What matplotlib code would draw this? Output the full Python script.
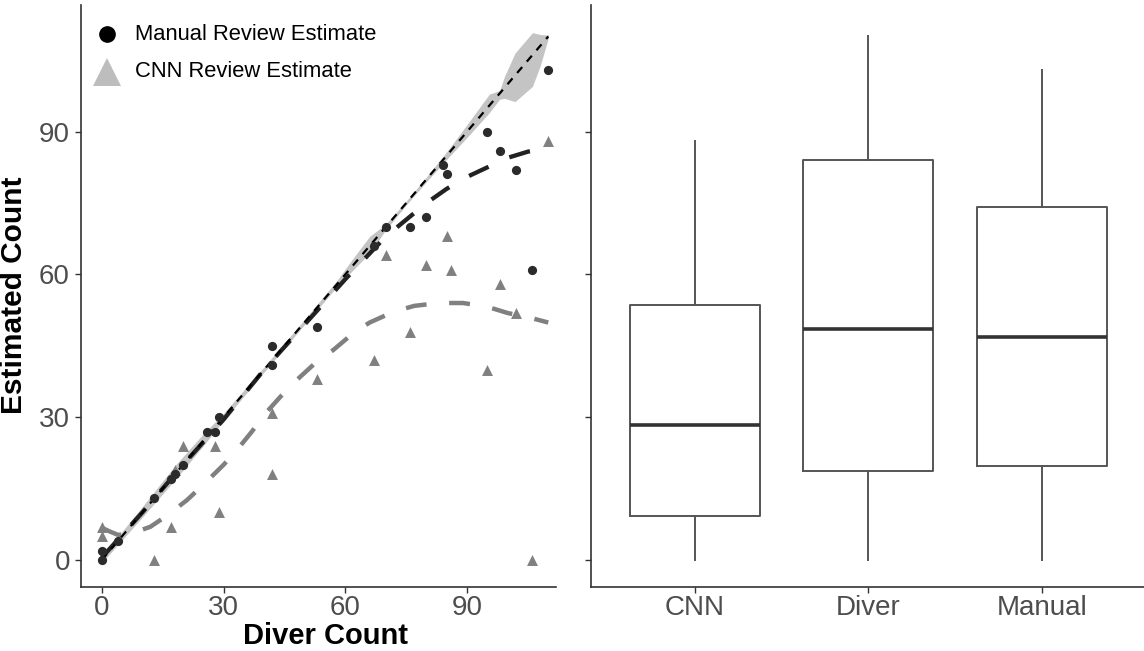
#!/usr/bin/env python3
"""Diver vs. estimated counts: scatter with smoothers, plus boxplots."""

import matplotlib

matplotlib.use("Agg")
import matplotlib.pyplot as plt

plt.rcParams["font.family"] = ["Liberation Sans", "DejaVu Sans"]

# scatter points
manual_x = [0, 0, 4, 13, 17, 18, 20, 26, 28, 29, 42, 42, 53, 67, 70, 76, 80, 84, 85, 95, 98, 102, 106, 110]
manual_y = [0, 2, 4, 13, 17, 18, 20, 27, 27, 30, 45, 41, 49, 66, 70, 70, 72, 83, 81, 90, 86, 82, 61, 103]
cnn_x = [0, 0, 13, 17, 18, 20, 28, 29, 42, 42, 53, 67, 70, 76, 80, 85, 86, 95, 98, 102, 106, 110]
cnn_y = [5, 7, 0, 7, 19, 24, 24, 10, 31, 18, 38, 42, 64, 48, 62, 68, 61, 40, 58, 52, 0, 88]

# identity line with its band
rib_x = [0, 5, 10, 18, 25, 30, 40, 50, 58, 62, 66, 70, 75, 80, 85, 90, 95.5, 98, 99.2, 101.8, 106.1, 108, 110]
rib_lo = [-0.6, 4.2, 9.0, 16.8, 24.0, 29.3, 39.5, 49.5, 57.5, 61.0, 64.5, 69.4, 74.6, 79.5, 84.2,
          88.8, 94.0, 96.8, 97.0, 96.3, 99.5, 103.8, 109.6]
rib_hi = [0.8, 6.0, 11.2, 19.8, 26.5, 30.8, 40.6, 50.6, 58.8, 63.5, 68.0, 70.6, 75.4, 80.5, 85.8,
          91.5, 97.9, 98.6, 101.6, 106.5, 110.8, 110.4, 110.3]
ident_x = [0, 110]
ident_y = [0, 110]

# smoothers
manual_fit_x = [0, 10, 20, 30, 40, 50, 60, 70, 75, 80, 85, 90, 95, 100, 105, 110]
manual_fit_y = [0.5, 10, 20, 29.5, 40, 49.5, 59, 68, 71.5, 75, 78, 80.5, 82.5, 84.5, 85.8, 86.5]
cnn_fit_x = [0, 2, 4, 7, 12, 16, 21, 25, 30, 33, 37, 40, 44, 48, 53, 57, 62, 66, 72, 77, 83, 89,
             95, 100, 106, 110]
cnn_fit_y = [6.8, 6.0, 5.3, 5.5, 7, 9.3, 12.6, 15.8, 20, 22.8, 27, 30.5, 34.3, 37.8, 41.7, 44.1,
             47.7, 49.9, 52.2, 53.4, 54, 54, 53.2, 51.9, 50.8, 49.9]

# boxplot summaries
box_labels = ["CNN", "Diver", "Manual"]
box_low = [0, 0, 0]
box_q1 = [9.2, 18.7, 19.8]
box_med = [28.4, 48.5, 46.9]
box_q3 = [53.6, 84.05, 74.2]
box_high = [88, 110, 103]

ticks = [0, 30, 60, 90]
W, H = 1144, 651
TICK_GREY = "#4d4d4d"
SPINE = "#333333"


def style_axes(ax):
    for side in ("top", "right"):
        ax.spines[side].set_visible(False)
    for side in ("left", "bottom"):
        ax.spines[side].set_color(SPINE)
        ax.spines[side].set_linewidth(1.2)
    ax.tick_params(colors=SPINE, labelcolor=TICK_GREY, labelsize=20, length=4, width=1.0, pad=4)
    ax.tick_params(axis="x", pad=2)
    ax.set_yticks(ticks)
    ax.set_ylim(-5.55, 116.6)


fig = plt.figure(figsize=(W / 100, H / 100), dpi=100)
bottom, top = 586.5, 5
ax1 = fig.add_axes([81 / W, 1 - bottom / H, (556 - 81) / W, (bottom - top) / H])
ax2 = fig.add_axes([591 / W, 1 - bottom / H, (W - 591) / W, (bottom - top) / H])

# left panel
style_axes(ax1)
ax1.fill_between(rib_x, rib_lo, rib_hi, color="#c4c4c4", linewidth=0, zorder=1)
ax1.plot(ident_x, ident_y, color="black", linewidth=1.6, dashes=(3.5, 3.2), zorder=4)
ax1.plot(manual_fit_x, manual_fit_y, color="#222222", linewidth=3.1, dashes=(5.0, 5.3), zorder=3)
ax1.plot(cnn_fit_x, cnn_fit_y, color="#808080", linewidth=3.2, dashes=(4.7, 5.1), zorder=3)
ax1.scatter(cnn_x, cnn_y, marker="^", s=62, color="#808080", linewidths=0, zorder=5)
ax1.scatter(manual_x, manual_y, marker="o", s=44, color="#2b2b2b", linewidths=0, zorder=5)
ax1.set_xlim(-5.1, 111.9)
ax1.set_xticks(ticks)
ax1.set_xlabel("Diver Count", fontsize=21, fontweight="bold")
ax1.xaxis.set_label_coords(0.514, -0.0605)
ax1.set_ylabel("Estimated Count", fontsize=21.5, fontweight="bold", labelpad=8)

# legend drawn by hand to match placement
ax1.plot([0.0541], [0.9496], transform=ax1.transAxes, marker="o", markersize=11,
         color="black", linestyle="none", clip_on=False)
ax1.plot([0.0554], [0.8853], transform=ax1.transAxes, marker="^", markersize=20,
         color="#bdbdbd", markeredgewidth=0, linestyle="none", clip_on=False)
ax1.text(0.1137, 0.9496, "Manual Review Estimate", transform=ax1.transAxes,
         fontsize=15.8, va="center", ha="left", color="black")
ax1.text(0.1137, 0.8853, "CNN Review Estimate", transform=ax1.transAxes,
         fontsize=15.8, va="center", ha="left", color="black")

# right panel
style_axes(ax2)
ax2.set_yticklabels([])
stats = [
    {"label": lab, "whislo": lo, "q1": q1, "med": med, "q3": q3, "whishi": hi, "fliers": []}
    for lab, lo, q1, med, q3, hi in zip(box_labels, box_low, box_q1, box_med, box_q3, box_high)
]
ax2.bxp(
    stats,
    positions=[1, 2, 3],
    widths=0.75,
    showcaps=False,
    boxprops={"color": "#555555", "linewidth": 1.4},
    whiskerprops={"color": "#555555", "linewidth": 1.4},
    medianprops={"color": "#333333", "linewidth": 2.6},
)
ax2.set_xlim(0.4, 3.59)
ax2.set_xticks([1, 2, 3])
ax2.set_xticklabels(box_labels)

fig.savefig("out.png", dpi=100)
